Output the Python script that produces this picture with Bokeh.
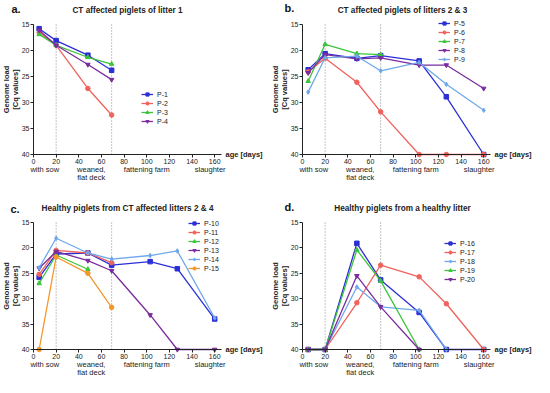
import math
from bokeh.plotting import figure
from bokeh.models import Range1d, Label, Legend, LegendItem, FixedTicker
from bokeh.layouts import gridplot
from bokeh.embed import file_html
from bokeh.resources import INLINE

# ---------------- data ----------------
days = [5, 20, 48, 69, 103, 127, 160]
phase_days = [20, 69]
phase_labels = ["with sow", "weaned,\nflat deck", "fattening farm", "slaughter"]
phase_pos = [10, 51, 100, 156]
y_ticks = [15, 20, 25, 30, 35, 40]
x_ticks = [0, 20, 40, 60, 80, 100, 120, 140, 160]
y_label_lines = ["Genome load", "[Cq values]"]
x_label = "age [days]"

titles = ["CT affected piglets of litter 1",
          "CT affected piglets of litters 2 & 3",
          "Healthy piglets from CT affected litters 2 & 4",
          "Healthy piglets from a healthy litter"]
letters = ["a.", "b.", "c.", "d."]

# panel a
a_names = ["P-1", "P-2", "P-3", "P-4"]
a_vals = [[15.8, 18.1, 20.9, 23.8],
          [16.5, 19.0, 27.3, 32.4],
          [16.9, 19.0, 21.3, 22.6],
          [16.1, 19.0, 22.7, 25.6]]
# panel b
b_names = ["P-5", "P-6", "P-7", "P-8", "P-9"]
b_vals = [[23.7, 20.6, 21.5, 21.0, 22.0, 28.9, 40.0],
          [24.1, 21.5, 26.1, 31.8, 40.0, 40.0, 40.0],
          [25.9, 18.8, 20.6, 20.8],
          [24.3, 20.8, 21.6, 21.4, 22.8, 22.8, 27.3],
          [28.0, 21.4, 21.1, 23.9, 22.3, 26.5, 31.5]]
# panel c
c_names = ["P-10", "P-11", "P-12", "P-13", "P-14", "P-15"]
c_vals = [[25.8, 21.2, 21.0, 23.4, 22.7, 24.1, 34.0],
          [25.2, 20.5, 21.0, 22.9],
          [27.0, 21.4, 24.2],
          [24.0, 20.7, 22.5, 24.5, 33.2, 40.0, 40.0],
          [23.9, 18.1, 21.0, 22.2, 21.5, 20.6, 33.8],
          [40.0, 21.8, 25.0, 31.7]]
# panel d
d_names = ["P-16", "P-17", "P-18", "P-19", "P-20"]
d_vals = [[40.0, 40.0, 19.1, 26.3, 32.7, 40.0, 40.0],
          [40.0, 40.0, 30.8, 23.4, 25.7, 31.0, 40.0],
          [40.0, 40.0, 27.7, 31.6, 32.3, 40.0],
          [40.0, 40.0, 20.4, 26.5, 40.0],
          [40.0, 40.0, 25.5, 31.6, 40.0]]

# ---------------- styling ----------------
BLUE = "#2c2fd6"
RED = "#f0625c"
GREEN = "#3cc43c"
PURPLE = "#7a2c9e"
LBLUE = "#6ea8ea"
ORANGE = "#f5962a"
FONT = "Liberation Sans"
TXT = "#222222"

a_style = [(BLUE, "square"), (RED, "circle"), (GREEN, "triangle"), (PURPLE, "inverted_triangle")]
b_style = [(BLUE, "square"), (RED, "circle"), (GREEN, "triangle"), (PURPLE, "inverted_triangle"), (LBLUE, "diamond")]
c_style = b_style + [(ORANGE, "circle")]
d_style = [(BLUE, "square"), (RED, "circle"), (LBLUE, "diamond"), (GREEN, "triangle"), (PURPLE, "inverted_triangle")]

X_END = 166  # end of the drawn x axis line
FRAME_W = 188.0


def make_panel(idx, names, vals, styles, legend_xy, height, x0_px, y15_px, y40_px,
               letter_xy, title_xy):
    width = 267
    sx = FRAME_W / X_END                    # px per day
    xs_start = -x0_px / sx
    xs_end = xs_start + width / sx
    sy = (y40_px - y15_px) / 25.0           # px per Cq unit
    y_top = 15 - y15_px / sy
    y_bot = 40 + (height - y40_px) / sy
    p = figure(width=width, height=height, output_backend="svg", toolbar_location=None,
               x_range=Range1d(xs_start, xs_end), y_range=Range1d(y_bot, y_top),
               min_border_left=0, min_border_right=0, min_border_top=0, min_border_bottom=0,
               background_fill_color="white", border_fill_color="white",
               outline_line_color=None)
    p.grid.visible = False
    for ax in (p.xaxis, p.yaxis):
        ax.axis_line_color = TXT
        ax.axis_line_width = 1
        ax.major_tick_line_color = TXT
        ax.major_tick_out = 3
        ax.major_tick_in = 0
        ax.minor_tick_line_color = None
        ax.major_label_text_font = FONT
        ax.major_label_text_font_size = "7px"
        ax.major_label_text_color = TXT
        ax.major_label_standoff = 1
    p.xaxis.ticker = FixedTicker(ticks=x_ticks)
    p.yaxis.ticker = FixedTicker(ticks=y_ticks)
    p.xaxis.fixed_location = 40
    p.yaxis.fixed_location = 0
    p.xaxis.bounds = (0, X_END)
    p.yaxis.bounds = (15, 40)

    # y-axis caption, two rotated lines
    ymid = height - (y15_px + y40_px) / 2.0
    for k, line in enumerate(y_label_lines):
        p.add_layout(Label(x=x0_px - 27 + 9 * k, y=ymid, x_units="screen", y_units="screen",
                           text=line, angle=math.pi / 2, text_font=FONT,
                           text_font_style="bold", text_font_size="7.5px",
                           text_align="center", text_baseline="middle", text_color=TXT))

    # phase boundaries (dotted)
    p.segment(x0=phase_days, y0=[15] * len(phase_days), x1=phase_days, y1=[40] * len(phase_days),
              line_color="#8a8a8a", line_dash="1 2", line_width=1)

    items = []
    for name, v, (col, mk) in zip(names, vals, styles):
        xs = days[:len(v)]
        r1 = p.line(xs, v, line_color=col, line_width=1.3)
        r2 = p.scatter(xs, v, marker=mk, size=4.5, fill_color=col, line_color=col)
        items.append(LegendItem(label=name, renderers=[r1, r2]))
    leg = Legend(items=items, location=legend_xy, glyph_height=8, glyph_width=12,
                 label_height=8, spacing=1, padding=0, margin=0, label_standoff=4,
                 label_text_font=FONT, label_text_font_size="7px", label_text_color=TXT,
                 background_fill_alpha=0, border_line_color=None)
    p.add_layout(leg)

    # x-axis caption to the right of the axis
    p.add_layout(Label(x=X_END, x_offset=4, y=40, text=x_label, text_font=FONT,
                       text_font_style="bold", text_font_size="7.5px",
                       text_baseline="middle", text_color=TXT))
    # phase captions below the tick numbers
    for pos, lab in zip(phase_pos, phase_labels):
        p.add_layout(Label(x=pos, y=40, y_offset=-10, text=lab, text_font=FONT,
                           text_font_size="7.5px", text_align="center",
                           text_baseline="top", text_color=TXT, text_line_height=0.95))
    # title
    p.add_layout(Label(x=title_xy[0], y=height - title_xy[1], x_units="screen", y_units="screen",
                       text=titles[idx], text_font=FONT, text_font_style="bold",
                       text_font_size="8.2px", text_align="center", text_baseline="middle",
                       text_color=TXT))
    # panel letter
    p.add_layout(Label(x=letter_xy[0], y=height - letter_xy[1], x_units="screen", y_units="screen",
                       text=letters[idx], text_font=FONT, text_font_style="bold",
                       text_font_size="11px", text_align="left",
                       text_baseline="middle", text_color="#111111"))
    return p


pa = make_panel(0, a_names, a_vals, a_style, (141, 63), 188, 33, 24, 154, (11, 8), (127, 10))
pb = make_panel(1, b_names, b_vals, b_style, (171, 125), 188, 35, 24, 154, (17, 7), (135, 10))
pc = make_panel(2, c_names, c_vals, c_style, (188, 105), 189, 33, 34, 161, (10, 20), (127, 20))
pd = make_panel(3, d_names, d_vals, d_style, (177, 94), 189, 35, 34, 161, (17, 18), (135, 20))

grid = gridplot([[pa, pb], [pc, pd]], toolbar_location=None)
open("out.html", "w").write(file_html(grid, INLINE))
